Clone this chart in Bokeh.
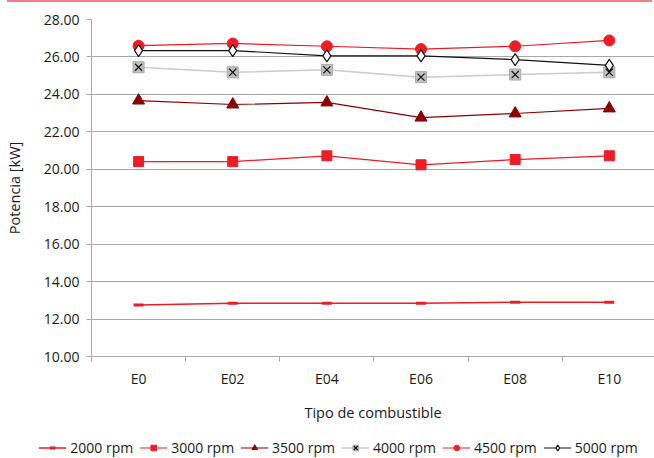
from bokeh.plotting import figure
from bokeh.models import Range1d, FixedTicker, NumeralTickFormatter, Legend, LegendItem, Div
from bokeh.layouts import column
from bokeh.embed import file_html
from bokeh.resources import INLINE

# Fuel blends on the x axis, engine power (kW) per engine speed
categories = ["E0", "E02", "E04", "E06", "E08", "E10"]
rpm_2000 = [12.75, 12.85, 12.85, 12.85, 12.90, 12.90]
rpm_3000 = [20.41, 20.41, 20.72, 20.24, 20.52, 20.72]
rpm_3500 = [23.67, 23.46, 23.57, 22.76, 22.98, 23.25]
rpm_4000 = [25.45, 25.18, 25.31, 24.92, 25.06, 25.18]
rpm_4500 = [26.60, 26.72, 26.57, 26.42, 26.57, 26.88]
rpm_5000 = [26.34, 26.34, 26.06, 26.06, 25.86, 25.55]
series_labels = ["2000 rpm", "3000 rpm", "3500 rpm", "4000 rpm", "4500 rpm", "5000 rpm"]
y_ticks = [10, 12, 14, 16, 18, 20, 22, 24, 26, 28]

FONT = "Open Sans"
RED = "#ee1c25"
DARK_RED = "#8b0000"
GRID = "#a8a8a8"
INK = "#1a1a1a"

# line + marker styling per series (shared by the chart and its legend strip)
STYLES = [
    dict(line=dict(line_color=RED, line_width=1.5),
         marks=[dict(marker="dash", size=10, line_color=RED, line_width=3)]),
    dict(line=dict(line_color=RED, line_width=1.2),
         marks=[dict(marker="square", size=10, fill_color=RED, line_color=RED)]),
    dict(line=dict(line_color=DARK_RED, line_width=1.2),
         marks=[dict(marker="triangle", size=12, fill_color=DARK_RED, line_color=DARK_RED)]),
    dict(line=dict(line_color="#cccccc", line_width=1.5),
         marks=[dict(marker="square", size=11, fill_color="#c0c0c0", line_color="#a8a8a8"),
                dict(marker="x", size=10, line_color="#111111", line_width=1.2)]),
    dict(line=dict(line_color=RED, line_width=1.2),
         marks=[dict(marker="circle", size=11, fill_color=RED, line_color=RED)]),
    dict(line=dict(line_color="#111111", line_width=1.2),
         marks=[dict(marker="diamond", size=12, fill_color="white", line_color="#111111", line_width=1.2)]),
]
series = [rpm_2000, rpm_3000, rpm_3500, rpm_4000, rpm_4500, rpm_5000]

xs = [i + 0.5 for i in range(len(categories))]

p = figure(width=654, height=428, output_backend="svg", toolbar_location=None,
           x_range=Range1d(0, 5.98), y_range=Range1d(10, 28),
           min_border_top=17, min_border_left=91, min_border_right=0, min_border_bottom=74)
p.frame_align = False
p.outline_line_color = None
p.background_fill_color = "white"
p.border_fill_color = "white"

# y axis
p.yaxis.ticker = FixedTicker(ticks=y_ticks)
p.yaxis.formatter = NumeralTickFormatter(format="0.00")
p.yaxis.axis_label = "Potencia [kW]"
p.yaxis.axis_line_color = GRID
p.yaxis.major_tick_line_color = GRID
p.yaxis.major_tick_out = 5
p.yaxis.major_tick_in = 0
p.yaxis.minor_tick_line_color = None
p.yaxis.major_label_standoff = 7
p.yaxis.axis_label_standoff = 17

# x axis: labels at category centres, ticks on category boundaries
p.xaxis.ticker = FixedTicker(ticks=xs, minor_ticks=list(range(len(categories) + 1)))
p.xaxis.major_label_overrides = {x: c for x, c in zip(xs, categories)}
p.xaxis.axis_label = "Tipo de combustible"
p.xaxis.axis_line_color = GRID
p.xaxis.major_tick_line_color = None
p.xaxis.major_tick_out = 5
p.xaxis.major_tick_in = 0
p.xaxis.minor_tick_line_color = GRID
p.xaxis.minor_tick_out = 5
p.xaxis.minor_tick_in = 0
p.xaxis.major_label_standoff = 7
p.xaxis.axis_label_standoff = 12

for ax in (p.xaxis, p.yaxis):
    ax.major_label_text_font = FONT
    ax.major_label_text_font_size = "14px"
    ax.major_label_text_color = INK
    ax.axis_label_text_font = FONT
    ax.axis_label_text_font_size = "14.5px"
    ax.axis_label_text_font_style = "normal"
    ax.axis_label_text_color = INK

p.xgrid.grid_line_color = None
p.ygrid.ticker = FixedTicker(ticks=y_ticks)
p.ygrid.grid_line_color = GRID
p.ygrid.grid_line_width = 1

for vals, st in zip(series, STYLES):
    p.line(xs, vals, **st["line"])
    for mk in st["marks"]:
        p.scatter(xs, vals, **mk)

# legend strip underneath the chart; its own series sit outside its (0..1) y range,
# so only the legend swatches show
leg = figure(width=654, height=28, output_backend="svg", toolbar_location=None,
             x_range=Range1d(0, 1), y_range=Range1d(0, 1),
             x_axis_location=None, y_axis_location=None,
             min_border_left=22, min_border_right=0, min_border_top=6, min_border_bottom=0)
leg.frame_align = False
leg.outline_line_color = None
leg.grid.visible = False
items = []
for label, vals, st in zip(series_labels, series, STYLES):
    rs = [leg.line(xs, vals, **st["line"])]
    for mk in st["marks"]:
        rs.append(leg.scatter(xs, vals, **mk))
    items.append(LegendItem(label=label, renderers=rs))

legend = Legend(items=items, orientation="horizontal", location="center",
                label_text_font=FONT, label_text_font_size="14px", label_text_color=INK,
                glyph_width=28, glyph_height=14, label_standoff=4, spacing=6,
                padding=0, margin=0, border_line_color=None, background_fill_alpha=0)
leg.add_layout(legend)

# thin coloured rule along the top of the page
top_rule = Div(text="", width=645, height=2, margin=(0, 0, 0, 7),
               styles={"background-color": "#f08080"})

page = column(top_rule, p, leg, spacing=0)
open("out.html", "w").write(file_html(page, INLINE))
